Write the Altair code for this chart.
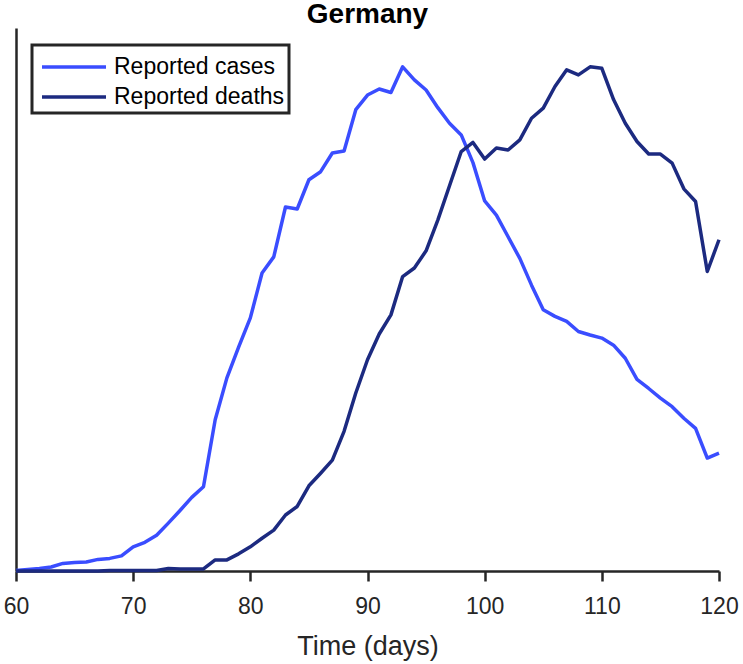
import altair as alt
import pandas as pd

# Daily series for Germany, days 60-120, each scaled to its own peak
days = list(range(60, 121))

reported_cases = [
    0.001, 0.003, 0.005, 0.008, 0.015, 0.017, 0.018, 0.023, 0.025, 0.030,
    0.048, 0.057, 0.071, 0.095, 0.120, 0.146, 0.167, 0.300, 0.383, 0.444,
    0.502, 0.591, 0.623, 0.722, 0.718, 0.776, 0.792, 0.829, 0.833, 0.915,
    0.944, 0.956, 0.949, 1.000, 0.974, 0.954, 0.919, 0.888, 0.865, 0.810,
    0.734, 0.706, 0.663, 0.620, 0.567, 0.518, 0.505, 0.495, 0.475, 0.468,
    0.462, 0.448, 0.422, 0.380, 0.362, 0.343, 0.326, 0.303, 0.283, 0.224,
    0.234,
]

reported_deaths = [
    0.000, 0.000, 0.000, 0.000, 0.000, 0.000, 0.000, 0.000, 0.001, 0.001,
    0.001, 0.001, 0.001, 0.005, 0.004, 0.004, 0.004, 0.022, 0.022, 0.034,
    0.048, 0.065, 0.081, 0.111, 0.128, 0.169, 0.194, 0.220, 0.277, 0.353,
    0.419, 0.470, 0.508, 0.584, 0.601, 0.635, 0.696, 0.764, 0.832, 0.850,
    0.817, 0.839, 0.835, 0.855, 0.898, 0.918, 0.961, 0.994, 0.984, 1.000,
    0.997, 0.935, 0.888, 0.852, 0.827, 0.827, 0.809, 0.758, 0.733, 0.594,
    0.657,
]

series_names = ["Reported cases", "Reported deaths"]
series_colors = ["#3a4dff", "#1c2a80"]
x_ticks = [60, 70, 80, 90, 100, 110, 120]

df = pd.concat([
    pd.DataFrame({"day": days, "value": reported_cases, "series": series_names[0]}),
    pd.DataFrame({"day": days, "value": reported_deaths, "series": series_names[1]}),
])

axis_color = "#262626"
font = "Liberation Sans"

# wide horizontal stroke used as the legend swatch (unit = half the symbol cell)
legend_swatch = "M-0.75,0H3.25"

chart = alt.Chart(df).mark_line(strokeWidth=3.5, strokeJoin="round").encode(
    x=alt.X(
        "day:Q",
        scale=alt.Scale(domain=[60, 120], nice=False, zero=False),
        axis=alt.Axis(
            title="Time (days)",
            values=x_ticks,
            grid=False,
            domainColor=axis_color,
            domainWidth=2.5,
            tickColor=axis_color,
            tickWidth=2.5,
            tickSize=10,
            labelFont=font,
            labelFontSize=23,
            labelColor=axis_color,
            labelPadding=14,
            labelFlush=False,
            titleFont=font,
            titleFontSize=27,
            titleFontWeight="normal",
            titleColor=axis_color,
            titlePadding=15,
        ),
    ),
    y=alt.Y(
        "value:Q",
        scale=alt.Scale(domain=[0, 1.077], nice=False),
        axis=alt.Axis(
            title=None,
            labels=False,
            ticks=False,
            grid=False,
            domainColor=axis_color,
            domainWidth=2.5,
        ),
    ),
    color=alt.Color(
        "series:N",
        scale=alt.Scale(domain=series_names, range=series_colors),
        legend=alt.Legend(
            title=None,
            orient="none",
            legendX=16,
            legendY=17,
            symbolType=legend_swatch,
            symbolSize=1024,
            symbolStrokeWidth=3.5,
            labelFont=font,
            labelFontSize=23,
            labelColor="#000000",
            labelOffset=42,
            labelLimit=400,
            rowPadding=-3,
            padding=4,
            strokeColor=axis_color,
            fillColor="white",
        ),
    ),
).properties(
    width=703,
    height=543,
    background="white",
    title=alt.TitleParams(
        "Germany",
        font=font,
        fontSize=28,
        fontWeight="bold",
        color="#000000",
        anchor="middle",
        frame="group",
        baseline="alphabetic",
        offset=5,
        dy=28,
    ),
    autosize=alt.AutoSizeParams(type="none"),
    padding={"left": 16, "top": 28, "right": 24, "bottom": 93},
).configure_view(
    stroke=None
).configure_legend(
    strokeWidth=3
)

chart.save("out.html", embed_options={"renderer": "svg", "actions": False})
